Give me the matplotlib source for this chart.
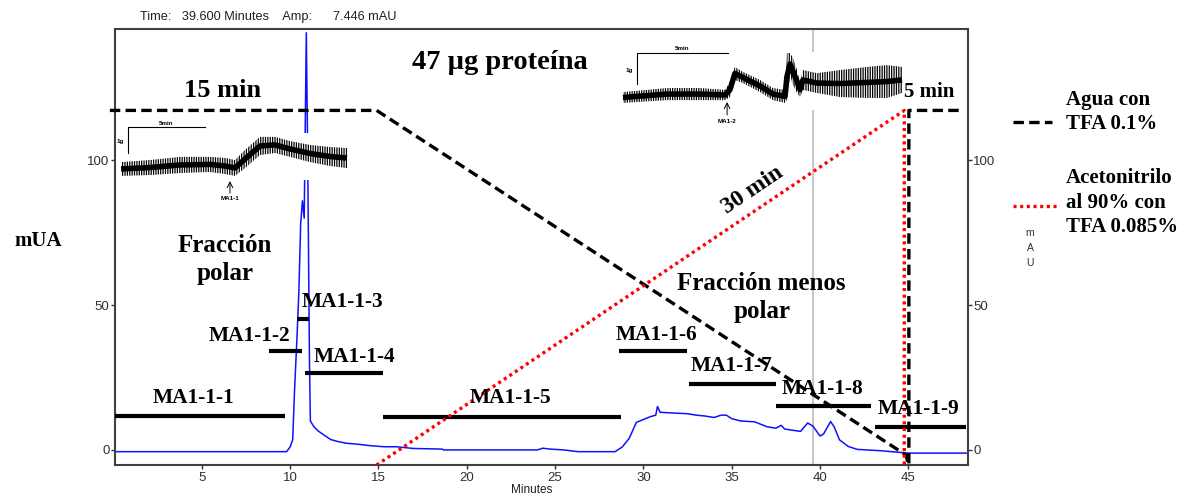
import matplotlib
matplotlib.use("Agg")
import matplotlib.pyplot as plt
from matplotlib.lines import Line2D

plt.rcParams["lines.scale_dashes"] = False
plt.rcParams["hatch.color"] = "black"
plt.rcParams["hatch.linewidth"] = 0.9

W, H = 1185, 495

# chromatogram (minutes, mAU)
chrom_t = [0.1, 9.8, 10.0, 10.15, 10.25, 10.4, 10.5, 10.6, 10.7, 10.8, 10.86, 10.92,
           10.98, 11.04, 11.1, 11.15, 11.35, 11.6, 12.0, 12.3, 12.7, 13.2, 13.8, 14.5,
           15.3, 16.0, 17.0, 18.6, 18.7, 19.7, 24.0, 24.3, 24.7, 25.5, 26.3, 28.4,
           28.8, 29.2, 29.6, 30.0, 30.4, 30.7, 30.8, 30.95, 31.5, 32.5, 33.0, 33.5,
           34.0, 34.4, 34.7, 35.0, 35.5, 36.3, 37.0, 37.5, 37.8, 38.0, 38.9, 39.3,
           39.6, 40.0, 40.2, 40.6, 40.8, 41.1, 41.6, 42.1, 43.5, 44.8, 45.0, 48.4]
chrom_a = [-0.6, -0.6, 1.0, 3.5, 20, 40, 55, 78, 86, 80, 112, 144,
           112, 72, 30, 10, 8.0, 6.5, 4.8, 3.6, 2.9, 2.3, 2.0, 1.5,
           1.1, 1.1, 0.5, 0.3, 0.0, 0.0, 0.0, 0.6, 0.3, 0.0, -0.6, -0.6,
           1.0, 4.0, 9.5, 10.5, 11.5, 12.0, 15.0, 13.0, 12.8, 12.5, 12.0, 11.7,
           11.2, 12.0, 12.0, 10.8, 10.0, 9.7, 8.0, 7.5, 8.5, 7.2, 6.4, 9.3,
           8.2, 4.8, 5.5, 9.8, 8.0, 3.5, 1.2, 0.2, -0.3, -1.0, -1.1, -1.1]

cursor_time = 39.6

# collected fractions: name, start, end, level, label position
frac_names = ["MA1-1-1", "MA1-1-2", "MA1-1-3", "MA1-1-4", "MA1-1-5",
              "MA1-1-6", "MA1-1-7", "MA1-1-8", "MA1-1-9"]
frac_start = [0.09, 8.8, 10.39, 10.85, 15.26, 28.6, 32.56, 37.5, 43.1]
frac_end = [9.7, 10.65, 11.07, 15.26, 28.76, 32.47, 37.5, 42.86, 48.24]
frac_level = [11.7, 34.1, 45.2, 26.4, 11.5, 34.1, 22.8, 15.3, 7.9]
frac_label_x = [4.56, 7.73, 12.99, 13.67, 22.45, 30.77, 35.01, 40.17, 45.6]
frac_label_y = [17.8, 39.3, 51.0, 32.1, 17.9, 39.7, 29.1, 21.2, 14.1]

# gradient program drawn on the chromatogram scale
water_t = [-0.2, 14.9, 44.85, 45.03, 45.03, 48.05]
water_y = [117.2, 117.2, -1.7, -5.2, 117.2, 117.2]
acn_t = [14.9, 44.77, 44.77]
acn_y = [-5.2, 117.2, -5.2]

# organ bath insets (minutes, grams): noise envelope of the traces
ins1_t = [-0.45, 1.43, 3.38, 5.32, 6.30, 6.95, 7.60, 8.57, 9.55, 10.52, 11.82, 13.12, 14.22]
ins1_lo = [-0.88, -0.85, -0.77, -0.73, -0.81, -0.88, -0.58, -0.08, 0.0, -0.15, -0.35, -0.50, -0.58]
ins1_hi = [-0.35, -0.27, -0.15, -0.15, -0.19, -0.27, 0.12, 0.62, 0.62, 0.46, 0.31, 0.23, 0.19]
ins2_t = [-0.77, 1.65, 3.46, 4.84, 5.11, 5.38, 5.82, 6.76, 7.47, 8.13, 8.24, 8.41,
          8.57, 8.79, 8.96, 9.12, 9.89, 11.15, 12.64, 13.74, 14.56]
ins2_lo = [-0.61, -0.52, -0.52, -0.52, -0.42, 0.13, 0.03, -0.26, -0.52, -0.61, -0.52, 0.29,
           -0.03, -0.29, -0.42, -0.19, -0.29, -0.42, -0.45, -0.45, -0.29]
ins2_hi = [-0.26, -0.13, -0.13, -0.19, 0.06, 0.55, 0.39, 0.13, -0.13, -0.19, 1.0, 1.0,
           0.84, 0.45, 0.06, 0.45, 0.35, 0.45, 0.55, 0.61, 0.55]

serif = "Liberation Serif"
sans = "Liberation Sans"


def fx(x):
    return x / W


def fy(y):
    return 1 - y / H


fig = plt.figure(figsize=(W / 100, H / 100), dpi=100)
ax = fig.add_axes([fx(115), fy(465), fx(967.7) - fx(115), fy(29.3) - fy(465)])
ax.set_xlim(0.09, 48.36)
ax.set_ylim(-5.2, 145.2)

ax.axvline(cursor_time, color="#c8c8c8", lw=1.5, zorder=1)
ax.plot(chrom_t, chrom_a, color="#1010ff", lw=1.1, zorder=2)

for i in range(len(frac_names)):
    ax.plot([frac_start[i], frac_end[i]], [frac_level[i]] * 2, color="black",
            lw=3, solid_capstyle="butt", zorder=3)
    ax.text(frac_label_x[i], frac_label_y[i], frac_names[i], ha="center", va="center",
            fontsize=15.4, fontweight="bold", family=serif, zorder=6)

ax.plot(water_t, water_y, color="black", lw=2.4, dashes=(7.5, 3.8), clip_on=False, zorder=4)
ax.plot(acn_t, acn_y, color="red", lw=2.4, dashes=(2.2, 2.6), zorder=4)

txt = dict(ha="center", va="center", fontweight="bold", family=serif, zorder=6)
ax.text(6.2, 124.1, "15 min", fontsize=19, **txt)
ax.text(21.88, 133.8, "47 µg proteína", fontsize=20.5, **txt)
ax.text(46.2, 123.6, "5 min", fontsize=15, **txt)
ax.text(36.2, 89.7, "30 min", fontsize=17, rotation=34, **txt)
ax.text(6.3, 70.7, "Fracción", fontsize=18, **txt)
ax.text(6.3, 61.0, "polar", fontsize=18, **txt)
ax.text(36.7, 57.6, "Fracción menos", fontsize=18, **txt)
ax.text(36.7, 47.9, "polar", fontsize=18, **txt)

ax.set_xticks([5, 10, 15, 20, 25, 30, 35, 40, 45])
ax.set_yticks([0, 50, 100])
ax.tick_params(axis="x", direction="out", length=3, width=1, colors="#303030",
               labelsize=9.5, pad=2)
ax.tick_params(axis="y", direction="out", length=3, width=1, colors="#303030",
               labelsize=9.5, pad=1, right=True, labelright=True)
for lab in ax.get_xticklabels() + ax.get_yticklabels():
    lab.set_family(sans)
for s in ax.spines.values():
    s.set_color("#404040")
    s.set_linewidth(1.5)


def draw_inset(box, tlim, slim, t, lo, hi, white, arrow_t, arrow_s, tag):
    a = fig.add_axes([fx(box[0]), fy(box[3]), fx(box[1]) - fx(box[0]), fy(box[2]) - fy(box[3])])
    a.set_xlim(*tlim)
    a.set_ylim(*slim)
    a.axis("off")
    a.patch.set_alpha(0)
    a.axhspan(white[0], white[1], xmax=white[2], color="white", lw=0, zorder=0)
    # noisy trace: hatched envelope plus a solid core
    a.fill_between(t, lo, hi, facecolor="none", edgecolor="black", hatch="|" * 7,
                   lw=0, zorder=2)
    mid = [(l + h) / 2 for l, h in zip(lo, hi)]
    a.plot(t, mid, color="black", lw=4, solid_capstyle="butt", zorder=3)
    a.plot([0, 0, 5], [0, 1, 1], color="black", lw=0.8)
    a.text(2.5, 1.05, "5min", ha="center", va="bottom", fontsize=4.5, fontweight="bold", family=sans)
    a.text(-0.25, 0.45, "1g", ha="right", va="center", fontsize=4.5, fontweight="bold", family=sans)
    a.annotate("", xy=(arrow_t, arrow_s[1]), xytext=(arrow_t, arrow_s[0]),
               arrowprops=dict(arrowstyle="->", lw=0.7, color="black", shrinkA=0, shrinkB=0))
    a.text(arrow_t, arrow_s[0] - 0.12, tag, ha="center", va="top", fontsize=4.5,
           fontweight="bold", family=sans)


draw_inset((118, 352, 115, 202), (-0.649, 14.545), (-1.885, 1.4615),
           ins1_t, ins1_lo, ins1_hi, (-1.038, 0.769, 1.0), 6.62, (-1.54, -1.08), "MA1-1")
draw_inset((618, 906, 35, 130), (-1.044, 14.78), (-1.484, 1.581),
           ins2_t, ins2_lo, ins2_hi, (-0.839, 1.032, 0.99), 4.95, (-1.0, -0.58), "MA1-2")

# header and outer labels
fig.text(fx(140), fy(17), "Time:   39.600 Minutes    Amp:      7.446 mAU", ha="left",
         va="center", fontsize=9.2, family=sans, color="#202020")
fig.text(fx(532), fy(490), "Minutes", ha="center", va="center", fontsize=8.5,
         family=sans, color="#202020")
fig.text(fx(38), fy(241), "mUA", ha="center", va="center", fontsize=15,
         fontweight="bold", family=serif)
for k, ch in enumerate("mAU"):
    fig.text(fx(1030), fy(233 + 15 * k), ch, ha="center", va="center", fontsize=7.5,
             family=sans, color="#303030")

# legend
fig.add_artist(Line2D([fx(1013), fx(1052)], [fy(122), fy(122)], color="black", lw=2.4,
                      dashes=(7.5, 3.8), transform=fig.transFigure))
fig.add_artist(Line2D([fx(1013), fx(1057)], [fy(206), fy(206)], color="red", lw=2.4,
                      dashes=(2.2, 2.6), transform=fig.transFigure))
leg = dict(ha="left", va="center", fontsize=15, fontweight="bold", family=serif)
fig.text(fx(1066), fy(100), "Agua con", **leg)
fig.text(fx(1066), fy(124), "TFA 0.1%", **leg)
fig.text(fx(1066), fy(178), "Acetonitrilo", **leg)
fig.text(fx(1066), fy(203), "al 90% con", **leg)
fig.text(fx(1066), fy(227), "TFA 0.085%", **leg)

fig.savefig("out.png", dpi=100)
